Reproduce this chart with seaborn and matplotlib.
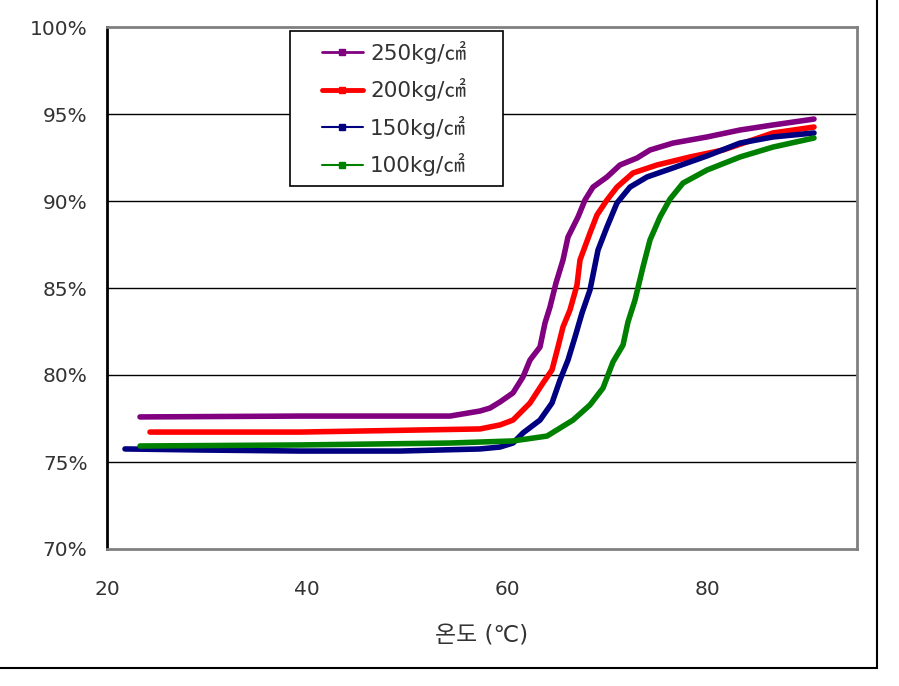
import matplotlib
matplotlib.use("Agg")
import matplotlib.pyplot as plt
from matplotlib.lines import Line2D
from matplotlib.patches import Rectangle
import seaborn as sns
import pandas as pd

# ---------------- data ----------------
series_labels = ["250kg/㎠", "200kg/㎠", "150kg/㎠", "100kg/㎠"]
series_colors = ["#800080", "#FF0000", "#000080", "#008000"]

t_250 = [23.3, 39.3, 54.3, 57.3, 58.3, 59.3, 60.6, 61.6, 62.3, 63.3, 63.8, 64.3, 64.9,
         65.6, 66.1, 67.1, 67.8, 68.6, 70.0, 71.3, 73.0, 74.3, 76.6, 80.0, 83.3, 86.6, 90.7]
v_250 = [77.59, 77.64, 77.64, 77.93, 78.10, 78.45, 78.97, 79.89, 80.86, 81.61, 82.99, 83.91, 85.29,
         86.61, 87.93, 89.08, 90.06, 90.80, 91.38, 92.07, 92.47, 92.93, 93.33, 93.68, 94.08, 94.37, 94.71]

t_200 = [24.3, 39.3, 57.3, 59.3, 60.6, 62.3, 63.6, 64.5, 65.1, 65.6, 66.3, 67.0, 67.3,
         68.3, 69.0, 70.0, 71.0, 72.6, 75.0, 78.3, 81.6, 86.6, 90.7]
v_200 = [76.72, 76.72, 76.90, 77.13, 77.41, 78.39, 79.54, 80.29, 81.61, 82.76, 83.74, 85.17, 86.61,
         88.16, 89.20, 90.06, 90.80, 91.61, 92.07, 92.53, 92.93, 93.91, 94.25]

t_150 = [21.8, 29.3, 39.3, 49.3, 57.3, 59.3, 60.6, 61.6, 63.3, 64.5, 65.3, 66.1, 66.8,
         67.5, 68.3, 69.1, 70.0, 71.0, 72.3, 74.0, 76.6, 80.0, 83.3, 86.6, 90.7]
v_150 = [75.75, 75.69, 75.63, 75.63, 75.75, 75.86, 76.09, 76.67, 77.41, 78.39, 79.71, 80.86, 82.18,
         83.56, 84.89, 87.18, 88.51, 89.89, 90.80, 91.38, 91.90, 92.59, 93.33, 93.68, 93.91]

t_100 = [23.3, 39.3, 54.3, 60.6, 64.0, 66.6, 68.3, 69.6, 70.6, 71.6, 72.1, 72.8, 73.6,
         74.3, 75.3, 76.3, 77.6, 80.0, 83.3, 86.6, 90.7]
v_100 = [75.92, 75.98, 76.09, 76.21, 76.49, 77.41, 78.28, 79.25, 80.75, 81.72, 83.05, 84.31, 86.21,
         87.76, 89.08, 90.11, 91.03, 91.78, 92.53, 93.10, 93.62]

x_ticks = [20, 40, 60, 80]
y_ticks = [70, 75, 80, 85, 90, 95, 100]
y_ticklabels = ["70%", "75%", "80%", "85%", "90%", "95%", "100%"]
x_label = "온도 (℃)"

# ---------------- build long table ----------------
frames = []
for lab, t, v in zip(series_labels, [t_250, t_200, t_150, t_100], [v_250, v_200, v_150, v_100]):
    frames.append(pd.DataFrame({"temp": t, "value": v, "series": lab}))
df = pd.concat(frames, ignore_index=True)

sns.set_theme(style="white")
plt.rcParams["font.family"] = ["DejaVu Sans", "Noto Sans CJK KR"]

fig = plt.figure(figsize=(8.99, 6.86), dpi=100)
ax = fig.add_axes([107 / 899, 1 - 549 / 686, 750 / 899, 522 / 686])

sns.lineplot(data=df, x="temp", y="value", hue="series", hue_order=series_labels,
             palette=dict(zip(series_labels, series_colors)), sort=False,
             linewidth=4.0, legend=False, ax=ax, estimator=None)

ax.set_xlim(20, 95)
ax.set_ylim(70, 100)
ax.set_xticks(x_ticks)
ax.set_yticks(y_ticks)
ax.set_yticklabels(y_ticklabels)
ax.tick_params(axis="both", length=0, labelsize=14.5, labelcolor="#333333")
ax.tick_params(axis="x", pad=22)
ax.tick_params(axis="y", pad=14)
ax.set_xlabel(x_label, fontsize=16.5, color="#333333", labelpad=19)
ax.set_ylabel("")

for y in y_ticks[1:-1]:
    ax.axhline(y, color="black", linewidth=1, zorder=0)

ax.spines["left"].set_color("black")
ax.spines["left"].set_linewidth(2)
for s in ["top", "right", "bottom"]:
    ax.spines[s].set_color("#808080")
    ax.spines[s].set_linewidth(2)
    ax.spines[s].set_visible(True)

handles = [
    Line2D([], [], color=series_colors[0], lw=2.0, marker="s", markersize=5),
    Line2D([], [], color=series_colors[1], lw=3.5, marker="s", markersize=5),
    Line2D([], [], color=series_colors[2], lw=1.5, marker="s", markersize=5),
    Line2D([], [], color=series_colors[3], lw=1.5, marker="s", markersize=5),
]
leg = ax.legend(handles, series_labels, loc="upper left",
                bbox_to_anchor=((322 - 107) / 750, (549 - 41) / 522),
                borderaxespad=0, borderpad=0, frameon=False,
                handlelength=1.9, handletextpad=0.33, labelspacing=0.67,
                prop={"family": ["DejaVu Sans", "Noto Sans CJK KR"], "size": 15.5})
for txt in leg.get_texts():
    txt.set_color("#333333")

# legend frame drawn separately (wide left margin as in the reference)
ax.add_patch(Rectangle(((290 - 107) / 750, (549 - 186) / 522), 213 / 750, 155 / 522,
                       transform=ax.transAxes, facecolor="white", edgecolor="black",
                       linewidth=1.2, zorder=4))
leg.set_zorder(5)

# outer chart frame (right and bottom edges visible)
fig.patches.append(Rectangle((-0.02, 1 - 668 / 686), 877 / 899 + 0.02, 1.1,
                             transform=fig.transFigure, fill=False,
                             edgecolor="black", linewidth=1.5, zorder=0))

fig.savefig("out.png", dpi=100)
